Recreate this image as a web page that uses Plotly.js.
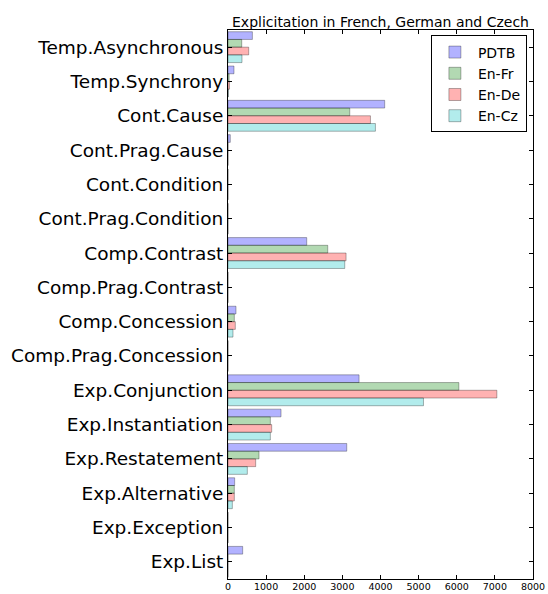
<!DOCTYPE html>
<html>
<head>
<meta charset="utf-8">
<script src="https://cdn.plot.ly/plotly-3.0.1.min.js"></script>
<style>html,body{margin:0;padding:0;background:#fff;}#chart{width:548px;height:594px;}</style>
</head>
<body>
<div id="chart"></div>
<script>
const categories = ["Temp.Asynchronous","Temp.Synchrony","Cont.Cause","Cont.Prag.Cause","Cont.Condition","Cont.Prag.Condition","Comp.Contrast","Comp.Prag.Contrast","Comp.Concession","Comp.Prag.Concession","Exp.Conjunction","Exp.Instantiation","Exp.Restatement","Exp.Alternative","Exp.Exception","Exp.List"];
const seriesNames = ["PDTB","En-Fr","En-De","En-Cz"];
const pdtb = [640, 157, 4110, 60, 0, 0, 2065, 0, 210, 0, 3438, 1391, 3115, 175, 0, 385];
const enFr = [360, 30, 3194, 0, 0, 0, 2616, 0, 166, 0, 6055, 1111, 814, 166, 0, 0];
const enDe = [543, 40, 3736, 0, 0, 0, 3097, 0, 192, 0, 7052, 1146, 726, 166, 0, 0];
const enCz = [367, 10, 3867, 0, 0, 0, 3062, 0, 131, 0, 5127, 1111, 507, 114, 0, 0];
const xTicks = [0,1000,2000,3000,4000,5000,6000,7000,8000];

const values = [pdtb, enFr, enDe, enCz];
const colors = ["rgba(0,0,255,0.3)","rgba(0,128,0,0.3)","rgba(255,0,0,0.3)","rgba(0,191,191,0.3)"];

const traces = values.map((v, i) => ({
  type: 'bar',
  orientation: 'h',
  name: seriesNames[i],
  x: v,
  y: categories,
  marker: {color: colors[i], line: {color: 'rgba(0,0,0,0.3)', width: 1}},
  hoverinfo: 'x+name'
}));

const layout = {
  width: 548, height: 594,
  margin: {l: 228, r: 15, t: 30, b: 15, pad: 0},
  paper_bgcolor: '#fff', plot_bgcolor: '#fff',
  font: {family: 'DejaVu Sans', color: '#000'},
  barmode: 'group', bargap: 0.1, bargroupgap: 0,
  title: {text: 'Explicitation in French, German and Czech', font: {size: 14, family: 'DejaVu Sans', color: '#000'},
          xref: 'paper', x: 0.5, xanchor: 'center', yref: 'paper', y: 1, yanchor: 'bottom', pad: {b: 3}},
  xaxis: {range: [0, 8000], tickvals: xTicks, ticktext: xTicks.map(String), ticks: 'inside', ticklen: 4, tickcolor: '#000',
          showline: true, linecolor: '#000', linewidth: 1, mirror: 'ticks', showgrid: false, zeroline: false,
          tickfont: {size: 9.5, family: 'DejaVu Sans', color: '#000'}, automargin: false, ticklabelstandoff: -1},
  yaxis: {type: 'category', categoryorder: 'array', categoryarray: categories, autorange: false, range: [15.5, -0.5],
          ticks: 'inside', ticklen: 4, tickcolor: '#000', showline: true, linecolor: '#000', linewidth: 1, mirror: 'ticks',
          showgrid: false, zeroline: false, tickfont: {size: 18.5, family: 'DejaVu Sans', color: '#000'}, automargin: false, ticklabelstandoff: 0},
  legend: {x: 0.98, xanchor: 'right', y: 0.99, yanchor: 'top', bgcolor: '#fff', bordercolor: '#000', borderwidth: 1,
           font: {size: 14, family: 'DejaVu Sans', color: '#000'}, traceorder: 'normal', tracegroupgap: 0, itemwidth: 36},
  showlegend: true
};

Plotly.newPlot('chart', traces, layout, {displayModeBar: false, staticPlot: true});
</script>
</body>
</html>
